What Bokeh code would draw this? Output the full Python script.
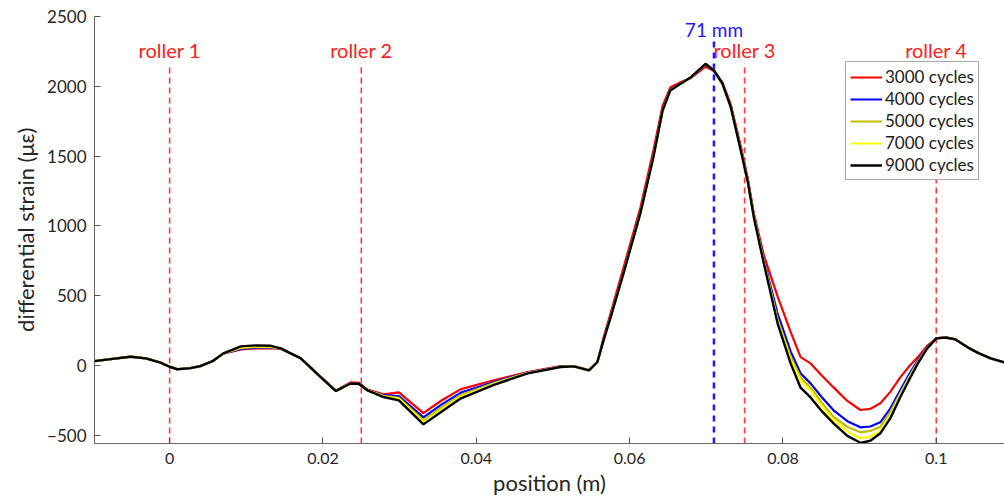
from bokeh.plotting import figure
from bokeh.models import ColumnDataSource, FixedTicker, Range1d, Legend, LegendItem
from bokeh.core.properties import value
from bokeh.embed import file_html
from bokeh.resources import INLINE

# ---- data ----
position = [-0.0098, -0.0077, -0.0051, -0.0031, -0.0012, 0.0, 0.001, 0.0027, 0.004, 0.0056,
            0.007, 0.0093, 0.0112, 0.0132, 0.0145, 0.0171, 0.0197, 0.0217, 0.0236, 0.0247,
            0.0258, 0.0279, 0.0299, 0.0331, 0.0355, 0.038, 0.0423, 0.0467, 0.051, 0.0527,
            0.0547, 0.0558, 0.0566, 0.0575, 0.0592, 0.0614, 0.0631, 0.0643, 0.0653, 0.0667,
            0.068, 0.0699, 0.071, 0.0721, 0.0732, 0.0745, 0.0754, 0.0762, 0.0775, 0.0793,
            0.081, 0.0823, 0.0836, 0.0851, 0.0866, 0.0884, 0.0901, 0.0914, 0.0927, 0.094,
            0.0953, 0.0965, 0.0976, 0.0988, 0.1, 0.1012, 0.1025, 0.1041, 0.1055, 0.1071,
            0.1089]

cyc_3000 = [30, 45, 62, 50, 20, -10, -28, -20, -5, 30,
            84, 115, 122, 124, 118, 52, -80, -180, -122, -126,
            -174, -208, -194, -342, -250, -170, -107, -48, -5, -5,
            -34, 26, 200, 370, 700, 1130, 1540, 1860, 1991, 2030,
            2060, 2140, 2110, 2030, 1870, 1570, 1345, 1090, 790, 494,
            240, 59, 14, -75, -158, -255, -320, -312, -272, -190,
            -86, -5, 59, 140, 193, 200, 186, 129, 88, 50,
            21]
cyc_4000 = [30, 45, 62, 50, 20, -10, -28, -20, -5, 30,
            85, 118, 126, 126, 120, 50, -84, -184, -128, -132,
            -178, -214, -220, -373, -280, -195, -120, -51, -8, -6,
            -35, 24, 185, 345, 665, 1095, 1500, 1830, 1975, 2022,
            2064, 2155, 2112, 2022, 1855, 1548, 1328, 1070, 760, 370,
            100, -57, -129, -230, -322, -400, -444, -438, -408, -310,
            -179, -60, 36, 130, 193, 200, 186, 129, 88, 50,
            21]
cyc_5000 = [30, 45, 62, 50, 20, -10, -28, -20, -5, 30,
            85, 124, 132, 130, 121, 50, -84, -184, -130, -134,
            -179, -218, -232, -394, -300, -212, -127, -53, -10, -7,
            -36, 24, 181, 342, 662, 1092, 1496, 1828, 1972, 2021,
            2065, 2158, 2113, 2021, 1852, 1544, 1324, 1066, 748, 330,
            60, -86, -160, -270, -370, -440, -480, -470, -440, -335,
            -200, -78, 25, 126, 193, 200, 186, 129, 88, 50,
            21]
cyc_7000 = [30, 45, 62, 50, 20, -10, -28, -20, -5, 30,
            86, 128, 136, 134, 122, 50, -84, -184, -130, -134,
            -179, -222, -240, -408, -315, -225, -133, -55, -11, -7,
            -36, 24, 180, 341, 660, 1090, 1494, 1827, 1971, 2020,
            2065, 2160, 2113, 2020, 1851, 1542, 1322, 1064, 740, 315,
            40, -110, -180, -295, -395, -475, -523, -510, -470, -360,
            -215, -88, 20, 123, 193, 200, 186, 129, 88, 50,
            21]
cyc_9000 = [30, 45, 62, 50, 20, -10, -28, -20, -5, 30,
            86, 136, 143, 140, 122, 50, -84, -184, -130, -134,
            -179, -227, -251, -423, -330, -236, -140, -57, -12, -7,
            -36, 24, 179, 340, 659, 1089, 1492, 1826, 1970, 2020,
            2065, 2161, 2113, 2020, 1850, 1540, 1320, 1062, 731, 301,
            14, -160, -230, -330, -416, -505, -555, -540, -487, -380,
            -229, -100, 14, 120, 193, 200, 186, 129, 88, 50,
            21]

series_labels = ["3000 cycles", "4000 cycles", "5000 cycles", "7000 cycles", "9000 cycles"]
series_colors = ["#ff0000", "#0000ff", "#bfbf00", "#ffff00", "#000000"]
series_values = [cyc_3000, cyc_4000, cyc_5000, cyc_7000, cyc_9000]

roller_pos = [0.0, 0.025, 0.075, 0.1]
roller_labels = ["roller 1", "roller 2", "roller 3", "roller 4"]
marker_pos = [0.071]
marker_labels = ["71 mm"]

x_ticks = [0, 0.02, 0.04, 0.06, 0.08, 0.1]
x_tick_labels = ["0", "0.02", "0.04", "0.06", "0.08", "0.1"]
y_ticks = [-500, 0, 500, 1000, 1500, 2000, 2500]

for s in series_values:
    assert len(s) == len(position)

FONT = "Lato"
Y_MIN, Y_MAX = -560, 2500

p = figure(width=1004, height=504, output_backend="svg", toolbar_location=None,
           x_range=Range1d(-0.0098, 0.1089), y_range=Range1d(Y_MIN, Y_MAX),
           min_border_left=94, min_border_right=0, min_border_top=16, min_border_bottom=61)
p.outline_line_color = None
p.xgrid.visible = False
p.ygrid.visible = False
p.background_fill_color = "white"
p.border_fill_color = "white"

# vertical roller lines
rsrc = ColumnDataSource(dict(x=roller_pos, y0=[Y_MIN] * len(roller_pos), y1=[2165] * len(roller_pos),
                             ty=[2262] * len(roller_pos), label=roller_labels))
p.segment(x0="x", y0="y0", x1="x", y1="y1", source=rsrc, line_color="#ff3c3c",
          line_width=1.6, line_dash="6 4")
p.text(x="x", y="ty", text="label", source=rsrc, text_color="#ff2020",
       text_font=value(FONT), text_font_size="20px", text_align="center", text_baseline="middle")

msrc = ColumnDataSource(dict(x=marker_pos, y0=[Y_MIN], y1=[2340], ty=[2410], label=marker_labels))
p.segment(x0="x", y0="y0", x1="x", y1="y1", source=msrc, line_color="#1a1aff",
          line_width=2.5, line_dash="6 5")
p.text(x="x", y="ty", text="label", source=msrc, text_color="#1a1aff",
       text_font=value(FONT), text_font_size="19px", text_align="center", text_baseline="middle")

items = []
for lab, col, vals in zip(series_labels, series_colors, series_values):
    r = p.line(position, vals, line_color=col, line_width=2.2 if col != "#000000" else 2.4)
    items.append(LegendItem(label=lab, renderers=[r]))

legend = Legend(items=items, location=(751, 263))
legend.label_text_font = FONT
legend.label_text_font_size = "17px"
legend.label_text_color = "#1a1a1a"
legend.glyph_width = 32
legend.glyph_height = 18
legend.label_height = 18
legend.spacing = 1
legend.padding = 4
legend.margin = 0
legend.label_standoff = 3
legend.border_line_color = "#555555"
legend.border_line_width = 1
legend.background_fill_alpha = 1
p.add_layout(legend, "center")

for ax in (p.xaxis[0], p.yaxis[0]):
    ax.axis_line_color = "#666666"
    ax.major_tick_line_color = "#555555"
    ax.major_tick_in = 6
    ax.major_tick_out = 0
    ax.minor_tick_line_color = None
    ax.major_label_text_font = FONT
    ax.major_label_text_color = "#262626"
    ax.axis_label_text_font = FONT
    ax.axis_label_text_font_style = "normal"
    ax.axis_label_text_color = "#262626"

p.xaxis.ticker = FixedTicker(ticks=x_ticks)
p.xaxis.major_label_overrides = {t: l for t, l in zip(x_ticks, x_tick_labels)}
p.xaxis.major_label_text_font_size = "16px"
p.xaxis.axis_label = "position (m)"
p.xaxis.axis_label_text_font_size = "22px"
p.xaxis.major_label_standoff = 9
p.xaxis.axis_label_standoff = 2
p.yaxis.ticker = FixedTicker(ticks=y_ticks)
p.yaxis.major_label_text_font_size = "17px"
p.yaxis.axis_label = "differential strain (με)"
p.yaxis.axis_label_text_font_size = "22px"
p.yaxis.major_label_standoff = 8
p.yaxis.axis_label_standoff = 5

open("out.html", "w").write(file_html(p, INLINE))
